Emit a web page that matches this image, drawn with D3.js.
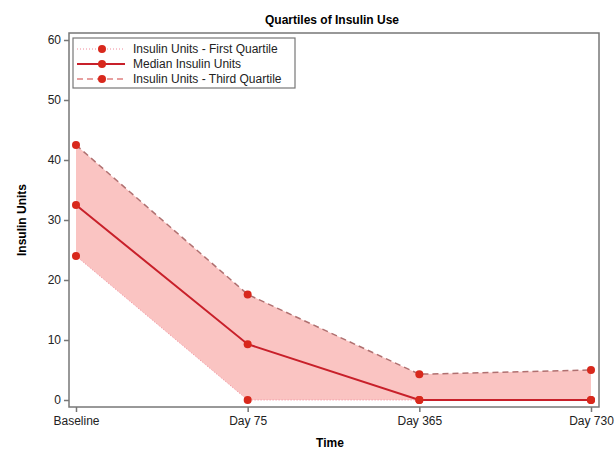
<!DOCTYPE html>
<html>
<head>
<meta charset="utf-8">
<script src="https://cdn.jsdelivr.net/npm/d3@7"></script>
<style>
  body { margin: 0; background: #fff; }
  text { font-family: "Liberation Sans", Arial, sans-serif; }
</style>
</head>
<body>
<div id="chart"></div>
<script>
// Data
const timePoints = ["Baseline", "Day 75", "Day 365", "Day 730"];
const firstQuartile = [24, 0, 0, 0];
const medianUnits = [32.5, 9.3, 0, 0];
const thirdQuartile = [42.5, 17.6, 4.3, 5];
const yTicks = [0, 10, 20, 30, 40, 50, 60];

const svgWidth = 615;
const svgHeight = 452;
const frame = { left: 69, top: 33, right: 599, bottom: 407 };

const svg = d3.select("#chart")
  .append("svg")
  .attr("width", svgWidth)
  .attr("height", svgHeight);

const x = d3.scalePoint()
  .domain(timePoints)
  .range([76, 591]);

const y = d3.scaleLinear()
  .domain([0, 60])
  .range([400, 40]);

const rows = timePoints.map((t, i) => ({
  t: t, q1: firstQuartile[i], med: medianUnits[i], q3: thirdQuartile[i]
}));

// band between quartiles
const band = d3.area()
  .x(d => x(d.t))
  .y0(d => y(d.q1))
  .y1(d => y(d.q3));

svg.append("path")
  .datum(rows)
  .attr("d", band)
  .attr("fill", "#fac4c2");

const lineOf = key => d3.line().x(d => x(d.t)).y(d => y(d[key]));

svg.append("path").datum(rows)
  .attr("d", lineOf("q1"))
  .attr("fill", "none")
  .attr("stroke", "#f08a9a")
  .attr("stroke-width", 1)
  .attr("stroke-dasharray", "1,2");

svg.append("path").datum(rows)
  .attr("d", lineOf("q3"))
  .attr("fill", "none")
  .attr("stroke", "#b07070")
  .attr("stroke-width", 1.5)
  .attr("stroke-dasharray", "6,4");

svg.append("path").datum(rows)
  .attr("d", lineOf("med"))
  .attr("fill", "none")
  .attr("stroke", "#c8202a")
  .attr("stroke-width", 2);

// markers
["q1", "med", "q3"].forEach(key => {
  svg.selectAll(null)
    .data(rows)
    .enter()
    .append("circle")
    .attr("cx", d => x(d.t))
    .attr("cy", d => y(d[key]))
    .attr("r", 4)
    .attr("fill", "#d8281c");
});

// frame
svg.append("rect")
  .attr("x", frame.left)
  .attr("y", frame.top)
  .attr("width", frame.right - frame.left)
  .attr("height", frame.bottom - frame.top)
  .attr("fill", "none")
  .attr("stroke", "#777")
  .attr("stroke-width", 1.5);

// axes
const leftAxis = d3.axisLeft(y).tickValues(yTicks).tickSize(5).tickPadding(3);
const yAxis = svg.append("g")
  .attr("transform", `translate(${frame.left}, 0)`)
  .call(leftAxis);

const bottomAxis = d3.axisBottom(x).tickSize(5).tickPadding(4);
const xAxis = svg.append("g")
  .attr("transform", `translate(0, ${frame.bottom})`)
  .call(bottomAxis);

[yAxis, xAxis].forEach(a => {
  a.select(".domain").remove();
  a.selectAll(".tick line").attr("stroke", "#777").attr("stroke-width", 1.5);
  a.selectAll(".tick text")
    .attr("fill", "#222")
    .style("font-size", "12px")
    .style("font-family", "'Liberation Sans', Arial, sans-serif");
});

// titles
svg.append("text")
  .attr("x", 332)
  .attr("y", 24)
  .attr("text-anchor", "middle")
  .style("font-size", "12px")
  .style("font-weight", "bold")
  .text("Quartiles of Insulin Use");

svg.append("text")
  .attr("x", 330)
  .attr("y", 447)
  .attr("text-anchor", "middle")
  .style("font-size", "12px")
  .style("font-weight", "bold")
  .text("Time");

svg.append("text")
  .attr("transform", "translate(26, 220) rotate(-90)")
  .attr("text-anchor", "middle")
  .style("font-size", "12px")
  .style("font-weight", "bold")
  .text("Insulin Units");

// legend
const legendItems = [
  { label: "Insulin Units - First Quartile", stroke: "#f08a9a", dash: "1,2", w: 1 },
  { label: "Median Insulin Units", stroke: "#c8202a", dash: null, w: 2 },
  { label: "Insulin Units - Third Quartile", stroke: "#e08080", dash: "6,4", w: 1.5 }
];

const legend = svg.append("g").attr("transform", "translate(73, 38)");
legend.append("rect")
  .attr("width", 222)
  .attr("height", 50)
  .attr("fill", "#fff")
  .attr("stroke", "#777")
  .attr("stroke-width", 1.2);

legendItems.forEach((item, i) => {
  const gy = 11 + i * 15;
  legend.append("line")
    .attr("x1", 4).attr("x2", 52)
    .attr("y1", gy).attr("y2", gy)
    .attr("stroke", item.stroke)
    .attr("stroke-width", item.w)
    .attr("stroke-dasharray", item.dash);
  legend.append("circle")
    .attr("cx", 29).attr("cy", gy).attr("r", 4)
    .attr("fill", "#d8281c");
  legend.append("text")
    .attr("x", 60).attr("y", gy + 4)
    .style("font-size", "12px")
    .attr("fill", "#222")
    .text(item.label);
});
</script>
</body>
</html>
